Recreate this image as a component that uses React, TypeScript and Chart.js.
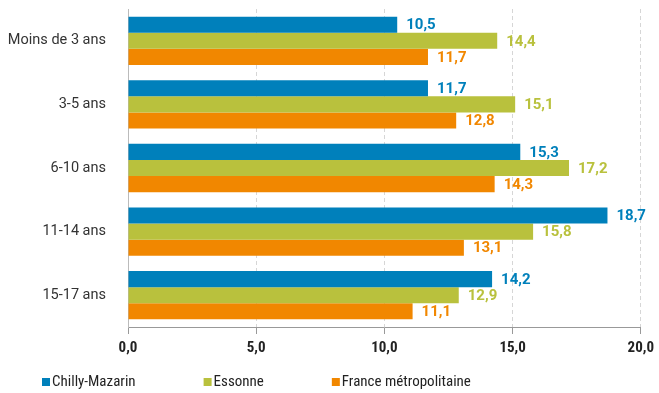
import React, { useEffect, useRef } from "react";
import { Chart, registerables } from "chart.js";

Chart.register(...registerables);

const categories = ["Moins de 3 ans", "3-5 ans", "6-10 ans", "11-14 ans", "15-17 ans"];
const seriesNames = ["Chilly-Mazarin", "Essonne", "France métropolitaine"];
const chillyValues = [10.5, 11.7, 15.3, 18.7, 14.2];
const essonneValues = [14.4, 15.1, 17.2, 15.8, 12.9];
const franceValues = [11.7, 12.8, 14.3, 13.1, 11.1];
const seriesColors = ["#0080bb", "#b9c13d", "#f18700"];
const xTicks = [0, 5, 10, 15, 20];

const COND = "'Roboto Condensed', 'Liberation Sans Narrow', 'DejaVu Sans Condensed', Roboto, sans-serif";
const fmt = (v: number) => v.toFixed(1).replace(".", ",");

const valueLabels = {
  id: "valueLabels",
  afterDatasetsDraw(chart: any) {
    const ctx = chart.ctx;
    ctx.save();
    ctx.font = "bold 15px Roboto, sans-serif";
    ctx.textBaseline = "middle";
    ctx.textAlign = "left";
    chart.data.datasets.forEach((ds: any, i: number) => {
      const meta = chart.getDatasetMeta(i);
      meta.data.forEach((el: any, j: number) => {
        ctx.fillStyle = ds.backgroundColor;
        ctx.fillText(fmt(ds.data[j]), el.x + 9, el.y + 1);
      });
    });
    ctx.restore();
  },
};

const customLegend = {
  id: "customLegend",
  afterDraw(chart: any) {
    const ctx = chart.ctx;
    ctx.save();
    ctx.font = "15px " + COND;
    ctx.textBaseline = "middle";
    ctx.textAlign = "left";
    const y = chart.height - 11;
    let x = 42;
    chart.data.datasets.forEach((ds: any) => {
      ctx.fillStyle = ds.backgroundColor;
      ctx.fillRect(x, y - 4, 8, 8);
      ctx.fillStyle = "#222";
      ctx.fillText(ds.label, x + 10, y);
      x += 10 + ctx.measureText(ds.label).width + 68;
    });
    ctx.restore();
  },
};

export default function App() {
  const ref = useRef<HTMLCanvasElement | null>(null);
  useEffect(() => {
    document.body.style.margin = "0";
    const values = [chillyValues, essonneValues, franceValues];
    const chart = new Chart(ref.current!, {
      type: "bar",
      data: {
        labels: categories,
        datasets: seriesNames.map((name, i) => ({
          label: name,
          data: values[i],
          backgroundColor: seriesColors[i],
          borderWidth: 0,
          categoryPercentage: 0.76,
          barPercentage: 1,
        })),
      },
      options: {
        indexAxis: "y",
        animation: false,
        responsive: false,
        layout: { padding: { top: 9, right: 16, bottom: 31, left: 0 } },
        plugins: {
          legend: { display: false },
          tooltip: { enabled: false },
        },
        scales: {
          x: {
            min: 0,
            max: 20,
            afterBuildTicks: (scale: any) => {
              scale.ticks = xTicks.map((v) => ({ value: v }));
            },
            ticks: {
              callback: (v: any) => fmt(Number(v)),
              color: "#222",
              font: { family: COND, size: 15, weight: "bold" },
              padding: 5,
            },
            grid: {
              color: "#d6d6d6",
              tickColor: "#999",
              tickLength: 7,
              tickBorderDash: [],
            },
            border: { display: true, color: "#999", dash: [4, 3], width: 1 },
          },
          y: {
            afterFit: (scale: any) => {
              scale.width = 128;
              scale.paddingTop = 0;
              scale.paddingBottom = 0;
            },
            ticks: {
              color: "#333",
              font: { family: "Roboto, sans-serif", size: 14.5 },
              padding: 14,
            },
            grid: { display: false },
            border: { display: true, color: "#bbb", width: 1 },
          },
        },
      },
      plugins: [valueLabels, customLegend],
    } as any);
    return () => chart.destroy();
  }, []);
  return (
    <div style={{ width: 659, height: 393 }}>
      <canvas ref={ref} width={659} height={393} />
    </div>
  );
}
